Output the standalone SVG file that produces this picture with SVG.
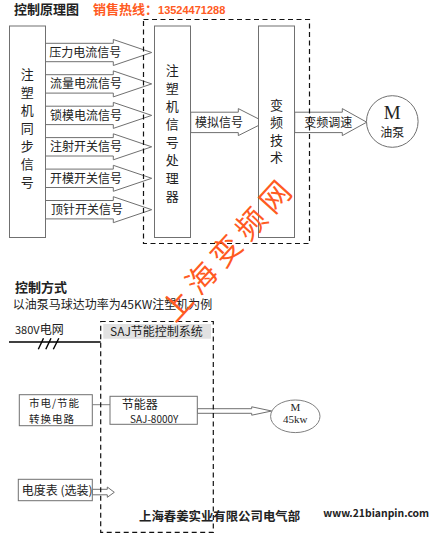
<svg xmlns="http://www.w3.org/2000/svg" width="429" height="543" viewBox="0 0 429 543">
<style>
text{font-family:"Noto Sans CJK SC","Liberation Sans",sans-serif;fill:#222;}
.t12{font-size:12px;}
.t13{font-size:13px;}
.vc{font-size:13px;text-anchor:middle;}
.bold{font-weight:bold;}
.box{fill:#fff;stroke:#707070;stroke-width:1;}
.arr{fill:#fff;stroke:#707070;stroke-width:1;}
.dash{fill:none;stroke:#111;stroke-width:1.2;stroke-dasharray:5,3.5;}
.orange{fill:#ff5a22;}
.serif{font-family:"Liberation Serif","Times New Roman",serif;}
</style>
<rect width="429" height="543" fill="#fff"/>

<!-- titles -->
<text class="t13 bold" x="14" y="14">控制原理图</text>
<text class="bold orange" x="93" y="14"><tspan font-size="13">销售热线：</tspan><tspan font-family="Liberation Sans,sans-serif" font-size="11" class="orange">13524471288</tspan></text>

<!-- connectors -->
<g id="connectors">
  <polygon class="arr" points="45.3,43.3 113.3,43.3 113.3,39.5 151.7,52.5 113.3,65.5 113.3,61.7 45.3,61.7"/>
  <polygon class="arr" points="45.3,74.7 113.3,74.7 113.3,70.9 151.7,83.9 113.3,96.9 113.3,93.1 45.3,93.1"/>
  <polygon class="arr" points="45.3,106.2 113.3,106.2 113.3,102.4 151.7,115.4 113.3,128.4 113.3,124.6 45.3,124.6"/>
  <polygon class="arr" points="45.3,137.6 113.3,137.6 113.3,133.8 151.7,146.8 113.3,159.8 113.3,156 45.3,156"/>
  <polygon class="arr" points="45.3,169.1 113.3,169.1 113.3,165.3 151.7,178.3 113.3,191.3 113.3,187.5 45.3,187.5"/>
  <polygon class="arr" points="45.3,200.5 113.3,200.5 113.3,196.7 151.7,209.7 113.3,222.7 113.3,218.9 45.3,218.9"/>
  <polygon class="arr" points="190.7,112.2 238.3,112.2 238.3,108.6 265,122.2 238.3,135.6 238.3,132.6 190.7,132.6"/>
  <polygon class="arr" points="294.7,112.2 342.3,112.2 342.3,108.6 366.7,122.2 342.3,135.6 342.3,132.6 294.7,132.6"/>
  <line x1="9" y1="342" x2="100.7" y2="342" stroke="#000" stroke-width="1.3"/>
  <g stroke="#000" stroke-width="1.4">
    <line x1="38.3" y1="349.3" x2="43.5" y2="338.3"/>
    <line x1="45.8" y1="349.3" x2="51" y2="338.3"/>
    <line x1="53.3" y1="349.3" x2="58.8" y2="338.3"/>
  </g>
  <line x1="92.3" y1="404.7" x2="110" y2="404.7" stroke="#808080"/>
  <polygon class="arr" points="197.3,408.7 251.7,408.7 251.7,406.8 271.7,411 251.7,415.2 251.7,413.3 197.3,413.3"/>
  <polygon class="arr" points="92.3,489.3 107.3,489.3 107.3,487 114.3,492.3 107.3,497.3 107.3,494.8 92.3,494.8"/>
</g>

<!-- top labels on arrows -->
<g id="arrow-labels">
  <text class="t12" x="49.3" y="57">压力电流信号</text>
  <text class="t12" x="50" y="88.4">流量电流信号</text>
  <text class="t12" x="50" y="119.9">锁模电流信号</text>
  <text class="t12" x="50" y="151.3">注射开关信号</text>
  <text class="t12" x="50" y="182.8">开模开关信号</text>
  <text class="t12" x="51" y="214.2">顶针开关信号</text>
  <text class="t12" x="195" y="127">模拟信号</text>
  <text class="t12" x="304.3" y="127">变频调速</text>
</g>

<g id="sync-signal">
  <rect class="box" x="9.5" y="26" width="36" height="211.5"/>
  <text class="vc"><tspan x="27.3" y="79">注</tspan><tspan x="27.3" y="97">塑</tspan><tspan x="27.3" y="115">机</tspan><tspan x="27.3" y="133">同</tspan><tspan x="27.3" y="151">步</tspan><tspan x="27.3" y="169">信</tspan><tspan x="27.3" y="187">号</tspan></text>
</g>

<g id="signal-processor">
  <rect class="box" x="154.5" y="26" width="36" height="211.5"/>
  <text class="vc"><tspan x="172.3" y="75.3">注</tspan><tspan x="172.3" y="93.3">塑</tspan><tspan x="172.3" y="111.3">机</tspan><tspan x="172.3" y="129.3">信</tspan><tspan x="172.3" y="147.3">号</tspan><tspan x="172.3" y="165.3">处</tspan><tspan x="172.3" y="183.3">理</tspan><tspan x="172.3" y="201.3">器</tspan></text>
</g>

<g id="vfd">
  <rect class="box" x="258.5" y="26" width="36" height="211.5"/>
  <text class="vc"><tspan x="276.5" y="109.6">变</tspan><tspan x="276.5" y="127.3">频</tspan><tspan x="276.5" y="144.6">技</tspan><tspan x="276.5" y="161.9">术</tspan></text>
</g>

<g id="control-box">
  <rect class="dash" x="143.5" y="19.5" width="166" height="224"/>
</g>

<g id="pump-motor">
  <circle cx="392.3" cy="121.5" r="25.8" fill="#fff" stroke="#707070"/>
  <text class="serif" x="392.3" y="119.3" font-size="19" text-anchor="middle">M</text>
  <text class="t12" x="392.3" y="137.3" text-anchor="middle">油泵</text>
</g>

<!-- lower section -->
<text class="t13 bold" x="15" y="292.3">控制方式</text>
<text class="t12" x="12.7" y="309.3">以油泵马球达功率为45KW注塑机为例</text>
<text class="t12" x="15" y="333.5"><tspan font-size="11">380V</tspan>电网</text>

<g id="saj-system">
  <rect x="103.3" y="324" width="107.7" height="14.7" fill="#e2e2e2"/>
  <text class="t12" x="110" y="335.6" fill="#333">SAJ节能控制系统</text>
  <rect class="dash" x="100.7" y="321.5" width="112.6" height="210.8"/>
</g>

<g id="switch-circuit">
  <rect class="box" x="19.3" y="394.7" width="73" height="31" stroke="#808080"/>
  <text x="29" y="407.3" font-size="10.5" letter-spacing="1">市电/节能</text>
  <text x="29" y="422.5" font-size="10.5" letter-spacing="1">转换电路</text>
</g>

<g id="saver">
  <rect class="box" x="110" y="396.3" width="87.3" height="28"/>
  <text class="t12" x="121.7" y="408.6">节能器</text>
  <text x="130" y="422.6" font-family="Liberation Mono,monospace" font-size="10">SAJ-8000Y</text>
</g>

<g id="motor-45kw">
  <ellipse cx="295.3" cy="416.3" rx="24.7" ry="16.3" fill="#fff" stroke="#808080"/>
  <text class="serif" x="295.3" y="411" font-size="11" text-anchor="middle">M</text>
  <text class="serif" x="295.3" y="423" font-size="11" text-anchor="middle">45kw</text>
</g>

<g id="meter">
  <rect class="box" x="18.3" y="479.3" width="74" height="21.4" stroke="#808080"/>
  <text class="t12" x="21.7" y="495">电度表 (选装)</text>
</g>

<text class="bold" x="139" y="520.5" font-size="12.4">上海春姜实业有限公司电气部</text>
<text x="323.3" y="516.5" font-family="Liberation Mono,monospace" font-size="10.4" font-weight="bold">www.21bianpin.com</text>

<!-- watermark -->
<text class="orange" font-size="30" text-anchor="middle" dominant-baseline="central" transform="translate(224.5,249.5) rotate(-47.8)"><tspan x="-73.2" y="0">上</tspan><tspan x="-36.6" y="0">海</tspan><tspan x="0" y="0">变</tspan><tspan x="36.6" y="0">频</tspan><tspan x="73.2" y="0">网</tspan></text>
</svg>
